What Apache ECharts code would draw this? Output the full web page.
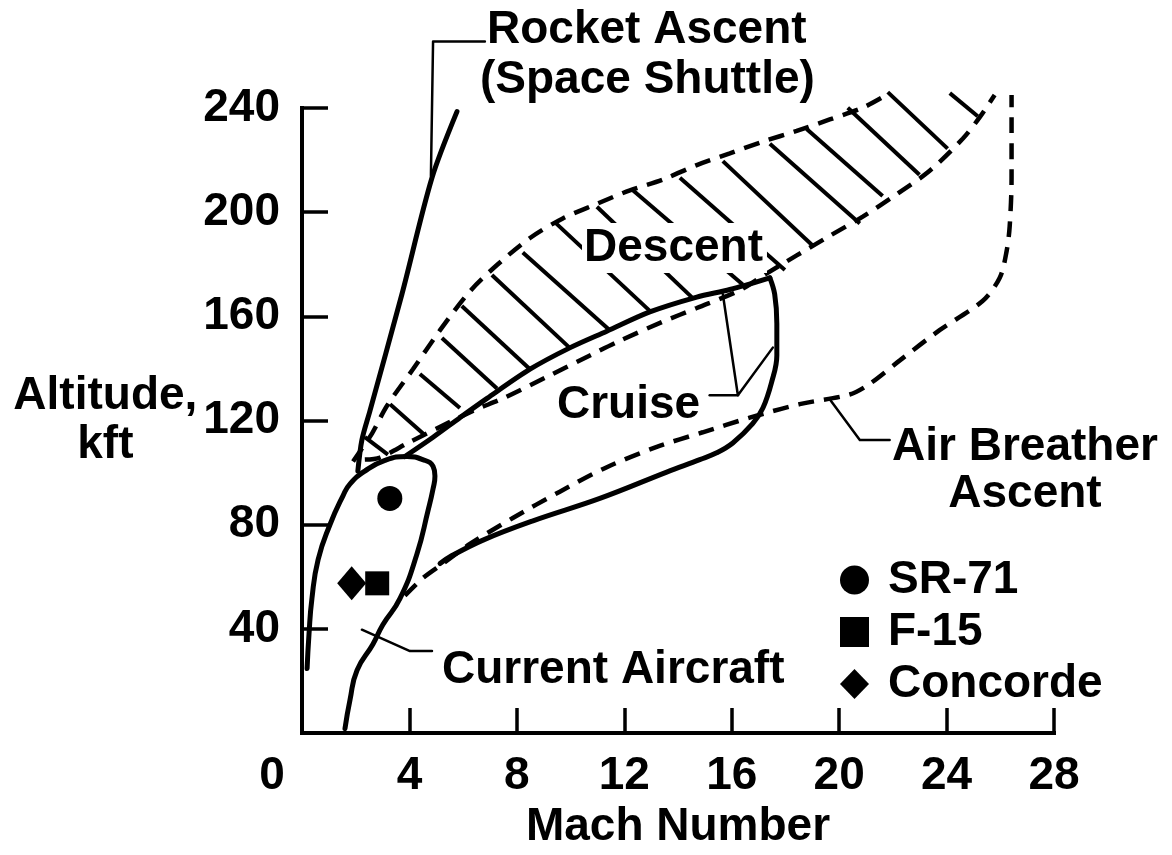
<!DOCTYPE html>
<html><head><meta charset="utf-8">
<script src="https://cdn.jsdelivr.net/npm/echarts@6/dist/echarts.min.js"></script>
<style>html,body{margin:0;padding:0;background:#fff}#c{width:1172px;height:855px}</style>
</head><body><div id="c"></div>
<script>
// ---------- data (Mach, altitude kft) ----------
const xTicks = [0, 4, 8, 12, 16, 20, 24, 28];
const yTicks = [40, 80, 120, 160, 200, 240];

const rocketAscent = [[2.08,100.6],[2.23,112.5],[2.53,123.7],[3.72,168.5],[4.84,213.2],[5.77,238.6]];
const rocketLeader = [[6.81,265.5],[4.88,265.5],[4.80,214.0]];

const currentAircraft = [[1.60,1.7],[1.79,12.9],[2.05,24.1],[2.64,34.1],[3.01,41.6],[3.65,51.7],[4.28,68.8],[4.69,85.3],
  [4.88,93.8],[4.95,98.7],[4.88,102.4],[4.50,105.0],[3.91,106.2],[3.09,104.7],[2.34,100.6],[1.79,95.7],[1.53,91.2],
  [1.04,80.0],[0.60,66.6],[0.37,51.7],[0.26,37.9],[0.19,24.8]];
const aircraftLeader = [[2.23,39.7],[4.02,31.5],[4.84,31.5]];

const cruiseUpper = [[3.83,106.2],[4.88,113.6],[5.88,121.1],[6.89,128.5],[8.49,139.7],[9.97,147.9],[11.35,154.3],
  [12.95,161.7],[14.70,167.4],[15.93,170.3],[17.42,174.8]];
const cruiseLower = [[17.42,174.8],[17.60,168.5],[17.68,157.3],[17.68,145.0],[17.49,134.9],[17.16,124.8],[16.78,118.8],
  [16.04,111.4],[15.44,107.6],[14.81,105.0],[13.58,100.2],[11.09,90.1],[8.60,81.5],[6.74,74.1],[5.51,67.7],[5.14,65.1]];
const cruiseLeaderA = [[15.67,168.5],[16.23,129.7],[17.53,148.0]];
const cruiseLeaderB = [[15.18,129.7],[16.23,129.7]];

const descentUpper = [[1.90,104.3],[2.61,115.1],[3.16,125.6],[4.13,139.7],[5.14,154.7],[6.25,169.6],[7.26,179.7],
  [8.49,190.1],[9.71,197.6],[10.98,203.2],[12.21,208.4],[13.43,212.5],[14.70,218.1],[15.93,222.6],[17.16,227.1],
  [18.42,231.2],[19.65,235.6],[20.88,240.1],[21.81,245.3]];
const descentLower = [[2.34,105.0],[2.90,105.8],[4.02,111.8],[6.36,123.7],[7.48,128.5],[9.12,136.8],[10.72,145.0],
  [11.83,150.6],[13.44,158.0],[14.70,163.2],[16.30,170.0],[17.16,175.6],[18.42,183.4],[19.65,190.9],[20.88,198.3],
  [22.14,206.9],[23.37,215.9],[24.60,228.2],[25.23,236.4],[25.79,245.0]];
const descentHatchStart = [[2.34,113.6],[3.28,126.3],[4.39,137.9],[5.21,151.7],[5.95,164.0],[7.07,175.9],[8.22,184.5],
  [9.42,196.1],[10.98,202.1],[12.32,208.4],[14.07,213.2],[15.67,219.6],[17.42,226.3],[18.79,231.9],[20.32,240.1],
  [21.81,246.1],[24.12,245.7]];
const descentHatchEnd = [[3.20,106.9],[4.58,114.4],[5.88,124.8],[7.26,132.3],[8.49,139.7],[9.97,147.9],[11.46,154.7],
  [12.95,162.1],[14.51,167.4],[16.41,172.2],[17.98,177.8],[19.02,187.1],[20.77,195.7],[21.62,206.2],[22.99,214.4],
  [24.04,224.4],[25.16,236.8]];

const airBreather = [[3.83,52.8],[4.50,59.5],[5.25,65.1],[6.25,72.6],[7.85,82.6],[9.60,92.7],[11.35,102.1],[13.21,109.9],
  [14.92,115.5],[16.67,121.1],[18.53,126.3],[20.39,130.0],[21.14,134.1],[22.26,143.1],[23.74,154.7],[25.34,165.9],
  [25.98,174.8],[26.24,185.3],[26.35,194.6],[26.42,213.2],[26.42,231.9],[26.42,245.0]];
const airLeader = [[19.65,128.2],[20.77,112.5],[21.88,112.5]];

const aircraftNames = ['SR-71', 'F-15', 'Concorde'];
const sr71 = [[3.27,90.1]];
const f15 = [[2.80,57.5]];
const concorde = [[1.85,57.5]];

// ---------- chart ----------
const FONT = '"Liberation Sans", Arial, Helvetica, sans-serif';
const TXT = {fontFamily: FONT, fontWeight: 'bold', fontSize: 46, color: '#000'};
const chart = echarts.init(document.getElementById('c'), null, {renderer: 'canvas'});

function ln(name, data, width, extra) {
  return Object.assign({
    type: 'line', name: name, data: data, symbol: 'none', clip: false, silent: true,
    animation: false, z: 3,
    lineStyle: {color: '#000', width: width, type: 'solid', cap: 'round', join: 'round', opacity: 1}
  }, extra || {});
}
const DASH = [16, 10];
function dashed(w) { return {color: '#000', width: w, type: DASH, cap: 'butt', opacity: 1}; }
const series = [
  ln('rocket', rocketAscent, 5, {smooth: 0.3}),
  ln('rocketLeader', rocketLeader, 2.5),
  ln('current', currentAircraft, 5, {smooth: 0.5}),
  ln('aircraftLeader', aircraftLeader, 2.5),
  ln('cruiseUpper', cruiseUpper, 5, {smooth: 0.3}),
  ln('cruiseLower', cruiseLower, 5, {smooth: 0.4}),
  ln('cruiseLeaderA', cruiseLeaderA, 2.5),
  ln('cruiseLeaderB', cruiseLeaderB, 2.5),
  ln('descentUpper', descentUpper, 4.5, {smooth: 0.3, lineStyle: dashed(4.5)}),
  ln('descentLower', descentLower, 4.5, {smooth: 0.3, lineStyle: dashed(4.5)}),
  ln('airBreather', airBreather, 4.5, {smooth: 0.3, lineStyle: dashed(4.5)}),
  ln('airLeader', airLeader, 2.5)
];
descentHatchStart.forEach(function (s, i) {
  series.push(ln('hatch' + i, [s, descentHatchEnd[i]], 4, {lineStyle: {color: '#000', width: 4, cap: 'butt', opacity: 1}}));
});
const markStyle = {color: '#000', opacity: 1};
series.push(
  {type: 'scatter', name: aircraftNames[0], data: sr71, symbol: 'circle', symbolSize: 25, itemStyle: markStyle, z: 5, animation: false},
  {type: 'scatter', name: aircraftNames[1], data: f15, symbol: 'rect', symbolSize: 24, itemStyle: markStyle, z: 5, animation: false},
  {type: 'scatter', name: aircraftNames[2], data: concorde, symbol: 'diamond', symbolSize: [29, 34], itemStyle: markStyle, z: 5, animation: false}
);

function txt(text, x, y, align, extra) {
  return {type: 'text', x: x, y: y, z: 100, silent: true,
    style: Object.assign({text: text, fill: '#000', font: 'bold 46px ' + FONT, align: align || 'left', verticalAlign: 'middle'}, extra || {})};
}

const option = {
  backgroundColor: '#fff',
  animation: false,
  grid: {left: 302, right: 118, top: 108, bottom: 103.5, containLabel: false},
  xAxis: {
    type: 'value', min: xTicks[0], max: xTicks[xTicks.length - 1], interval: 4,
    name: 'Mach Number', nameLocation: 'middle', nameGap: 54,
    nameTextStyle: Object.assign({}, TXT),
    axisLine: {show: true, onZero: false, lineStyle: {color: '#000', width: 4, cap: 'square'}},
    axisTick: {show: true, inside: true, length: 25, lineStyle: {color: '#000', width: 3.5}},
    splitLine: {show: false},
    axisLabel: Object.assign({}, TXT, {
      margin: 20,
      formatter: function (v) { return v === 0 ? '{z|0}' : String(v); },
      rich: {z: Object.assign({}, TXT, {padding: [0, 60, 0, 0]})}
    })
  },
  yAxis: {
    type: 'value', min: 0, max: yTicks[yTicks.length - 1], interval: 40,
    name: 'Altitude,\nkft', nameLocation: 'middle', nameGap: 196, nameRotate: 0,
    nameTextStyle: Object.assign({}, TXT, {align: 'center', verticalAlign: 'middle', lineHeight: 49, padding: [0, 0, 24, 0]}),
    axisLine: {show: true, onZero: false, lineStyle: {color: '#000', width: 4, cap: 'square'}},
    axisTick: {show: true, inside: true, length: 26, lineStyle: {color: '#000', width: 3.5}},
    splitLine: {show: false},
    axisLabel: Object.assign({}, TXT, {margin: 22, formatter: function (v) { return v === 0 ? '' : String(v); }})
  },
  legend: {
    orient: 'vertical', left: 835, top: 552, itemWidth: 29, itemHeight: 30, itemGap: 6,
    selectedMode: false,
    itemStyle: {color: '#000', opacity: 1},
    data: [{name: aircraftNames[0], icon: 'circle'}, {name: aircraftNames[1], icon: 'rect'}, {name: aircraftNames[2], icon: 'diamond'}],
    textStyle: Object.assign({}, TXT, {lineHeight: 46, padding: [0, 0, 0, 14]})
  },
  graphic: [
    txt('Rocket Ascent', 487, 30),
    txt('(Space Shuttle)', 480, 80),
    txt('Descent', 582, 248, 'left', {backgroundColor: '#fff', padding: [2, 4, 2, 2]}),
    txt('Cruise', 557, 405),
    txt('Air Breather\nAscent', 1025, 471, 'center', {lineHeight: 47}),
    txt('Current Aircraft', 442, 670)
  ],
  series: series
};
chart.setOption(option);
</script>
</body></html>
